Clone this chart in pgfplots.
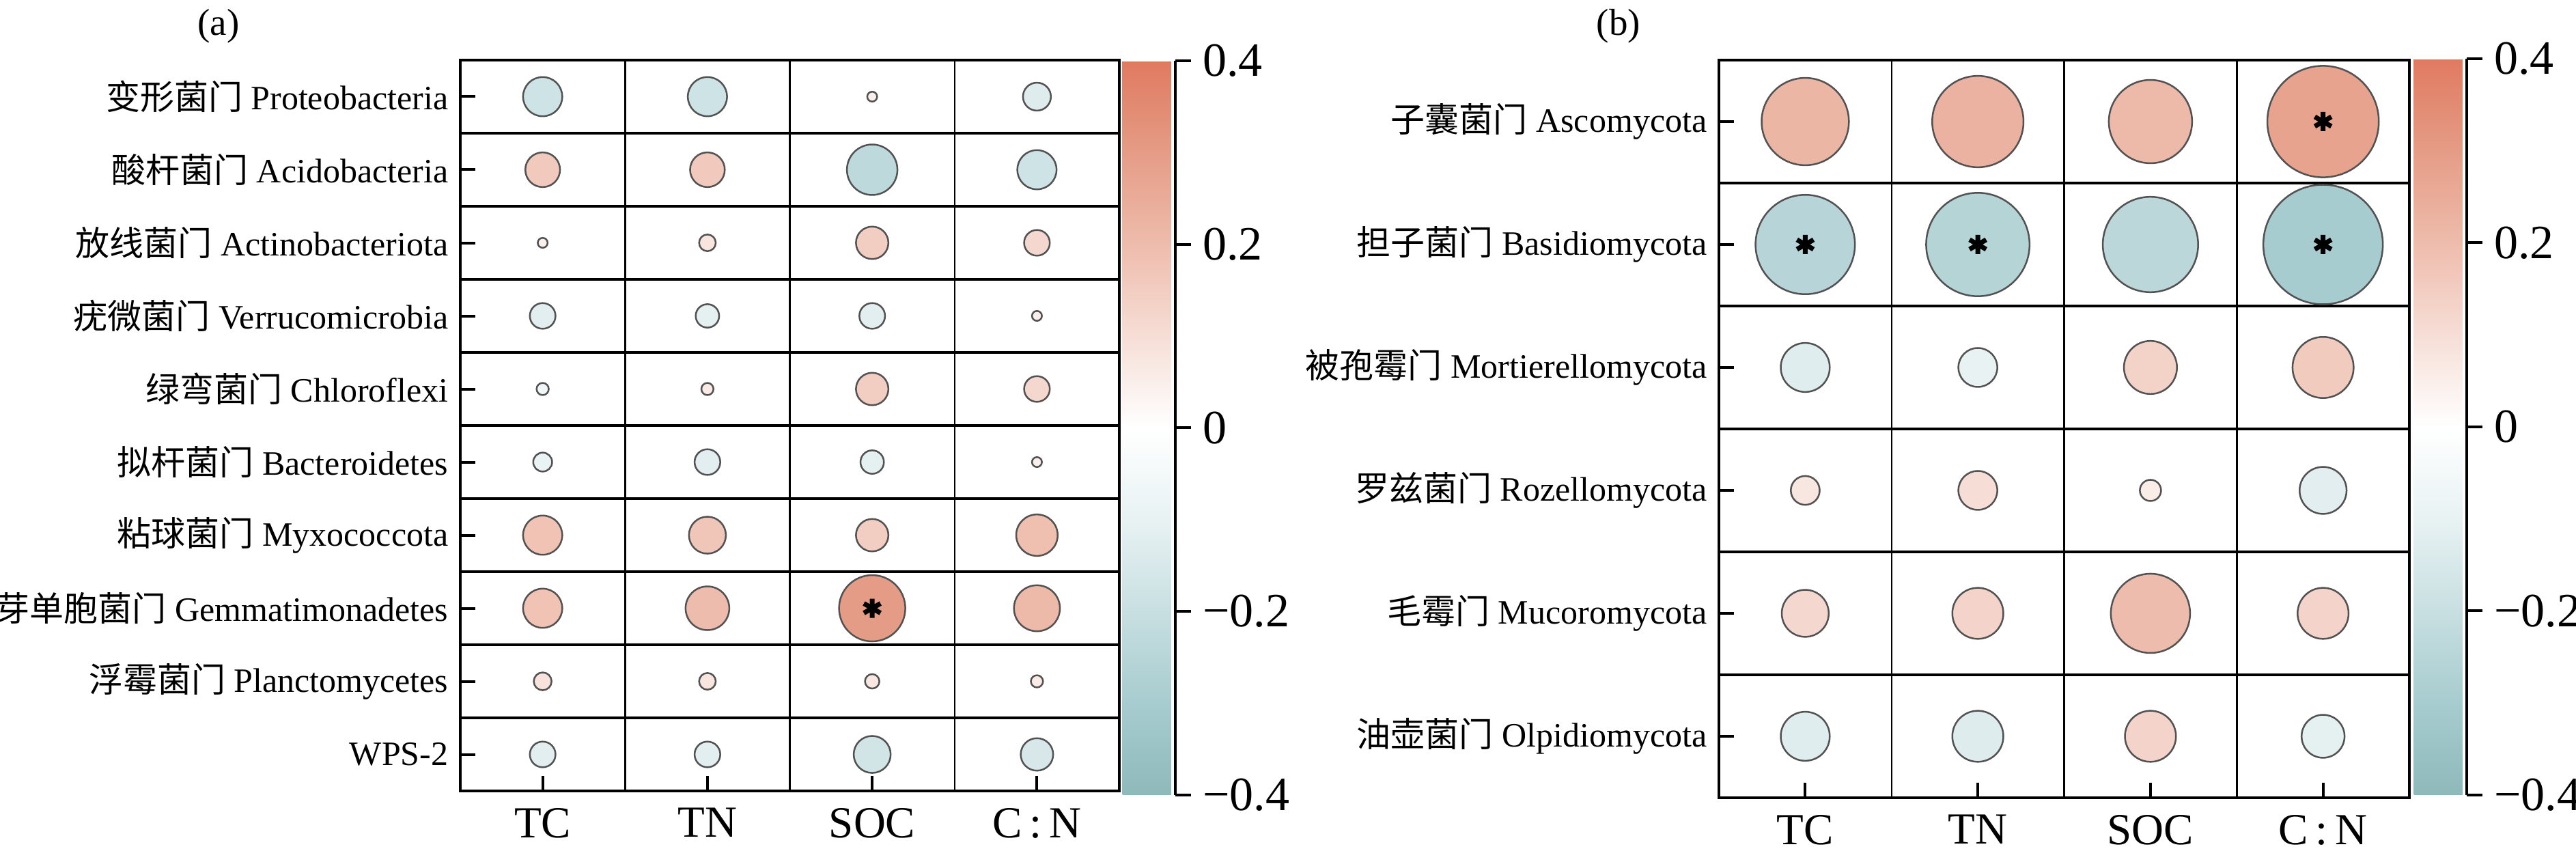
\documentclass[border=0pt]{standalone}
\usepackage{pgfplots}
\pgfplotsset{compat=1.18}
\usepackage{fontspec}
\setmainfont{Liberation Serif}
\newfontfamily\cjk{Noto Sans CJK SC}

\pgfplotsset{
  corrbase/.style={
    scale only axis,
    anchor=north west,
    xmin=-0.5, xmax=3.5,
    y dir=reverse,
    xtick={0,1,2,3},
    xticklabels={TC,TN,SOC,C\,:\,N},
    tick align=inside,
    xtick pos=bottom, ytick pos=left,
    major tick length=4.4pt,
    tick style={black, line width=0.8pt},
    axis line style={black, line width=0.9pt},
    xticklabel style={font=\fontsize{13pt}{15pt}\selectfont, yshift=-1.5pt},
    yticklabel style={font=\fontsize{10pt}{12pt}\selectfont},
    extra x ticks={0.5,1.5,2.5},
    extra x tick labels={},
    extra x tick style={grid=major, major tick length=0pt, major grid style={black, line width=0.5pt}},
    extra y tick labels={},
    extra y tick style={grid=major, major tick length=0pt, major grid style={black, line width=0.9pt}},
    colormap={corr}{rgb255=(142,185,187) rgb255=(167,204,207) rgb255=(200,223,225) rgb255=(232,242,243) rgb255=(255,255,255) rgb255=(246,222,214) rgb255=(238,188,172) rgb255=(229,156,134) rgb255=(224,122,96)},
    point meta min=-0.4, point meta max=0.4,
    colorbar,
  },
  cbstyle/.style={
      scale only axis,
      at={(parent axis.north east)}, anchor=north west,
      width=15.4pt, height=215pt,
      ytick={-0.4,-0.2,0,0.2,0.4},
      yticklabels={−0.4,−0.2,0,0.2,0.4},
      yticklabel style={font=\fontsize{14pt}{16pt}\selectfont},
      tick align=outside,
      major tick length=4.6pt,
      tick style={black, line width=0.8pt},
      axis x line=none,
      axis y line*=right,
      axis line style={black, line width=0.8pt},
  },
  corrpts/.style={
    scatter, only marks, mark=*,
    point meta=explicit,
    scatter/use mapped color={draw=black!68, fill=mapped color},
    mark options={line width=0.5pt},
  },
  sig/.style={only marks, mark=asterisk, mark size=2.8pt, mark options={black, line width=1.4pt}},
}

\begin{document}
\begin{tikzpicture}
\path[use as bounding box] (0,0) rectangle (754.4pt,248.6pt);

\node[font=\fontsize{11pt}{13pt}\selectfont] at (64pt,241pt) {(a)};
\node[font=\fontsize{11pt}{13pt}\selectfont] at (474pt,241pt) {(b)};

% ---------------- panel (a)
\begin{axis}[corrbase,
  at={(134.8pt,231pt)},
  width=193pt, height=214pt,
  ymin=-0.5, ymax=9.5,
  ytick={0,1,2,3,4,5,6,7,8,9},
  yticklabels={{\cjk 变形菌门} Proteobacteria,{\cjk 酸杆菌门} Acidobacteria,{\cjk 放线菌门} Actinobacteriota,{\cjk 疣微菌门} Verrucomicrobia,{\cjk 绿弯菌门} Chloroflexi,{\cjk 拟杆菌门} Bacteroidetes,{\cjk 粘球菌门} Myxococcota,{\cjk 芽单胞菌门} Gemmatimonadetes,{\cjk 浮霉菌门} Planctomycetes,WPS-2},
  extra y ticks={0.5,1.5,2.5,3.5,4.5,5.5,6.5,7.5,8.5},
  colorbar style={cbstyle, xshift=-7.6pt, yshift=-0.2pt},
]
\addplot[corrpts,
  visualization depends on={33*abs(\thisrow{r})-0.2 \as \msize},
  scatter/@pre marker code/.append style={/tikz/mark size=\msize}]
  table[x=x, y=y, meta=r] {
x y r
0 0 -0.18
1 0 -0.18
2 0 0.05
3 0 -0.13
0 1 0.16
1 1 0.16
2 1 -0.23
3 1 -0.18
0 2 0.05
1 2 0.08
2 2 0.15
3 2 0.12
0 3 -0.12
1 3 -0.11
2 3 -0.12
3 3 0.05
0 4 -0.06
1 4 0.06
2 4 0.15
3 4 0.12
0 5 -0.09
1 5 -0.12
2 5 -0.11
3 5 0.05
0 6 0.18
1 6 0.17
2 6 0.15
3 6 0.19
0 7 0.18
1 7 0.20
2 7 0.30
3 7 0.21
0 8 0.085
1 8 0.08
2 8 0.07
3 8 0.06
0 9 -0.12
1 9 -0.12
2 9 -0.17
3 9 -0.15
};
\addplot[sig] coordinates {(2,7)};
\end{axis}

% ---------------- panel (b)
\begin{axis}[corrbase,
  at={(503.4pt,231pt)},
  width=202.2pt, height=216pt,
  ymin=-0.5, ymax=5.5,
  ytick={0,1,2,3,4,5},
  yticklabels={{\cjk 子囊菌门} Ascomycota,{\cjk 担子菌门} Basidiomycota,{\cjk 被孢霉门} Mortierellomycota,{\cjk 罗兹菌门} Rozellomycota,{\cjk 毛霉门} Mucoromycota,{\cjk 油壶菌门} Olpidiomycota},
  extra y ticks={0.5,1.5,2.5,3.5,4.5},
  colorbar style={cbstyle, xshift=-7.2pt, yshift=0.4pt, height=215.6pt},
]
\addplot[corrpts,
  visualization depends on={59*abs(\thisrow{r})-0.2 \as \msize},
  scatter/@pre marker code/.append style={/tikz/mark size=\msize}]
  table[x=x, y=y, meta=r] {
x y r
0 0 0.22
1 0 0.23
2 0 0.21
3 0 0.28
0 1 -0.25
1 1 -0.26
2 1 -0.24
3 1 -0.30
0 2 -0.125
1 2 -0.10
2 2 0.135
3 2 0.155
0 3 0.075
1 3 0.10
2 3 0.056
3 3 -0.12
0 4 0.12
1 4 0.13
2 4 0.20
3 4 0.13
0 5 -0.125
1 5 -0.13
2 5 0.13
3 5 -0.11
};
\addplot[sig] coordinates {(3,0) (0,1) (1,1) (3,1)};
\end{axis}
\end{tikzpicture}
\end{document}
